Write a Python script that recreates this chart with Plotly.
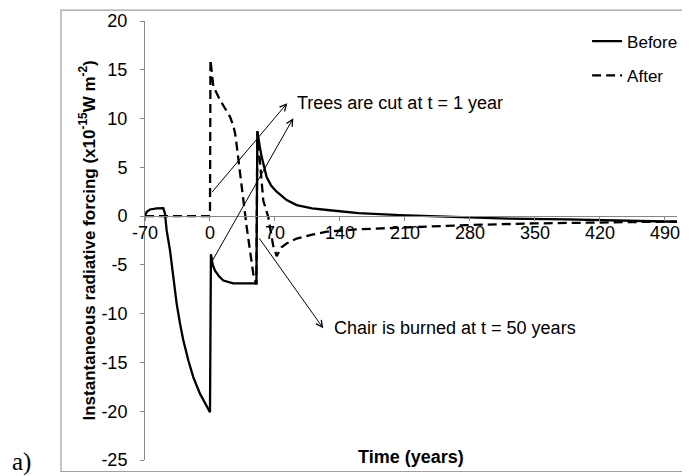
import plotly.graph_objects as go

# time axis (years) and forcing values (x10^-15 W m^-2)
before_t = [-70, -68.2, -64.6, -57.4, -50.3, -48.5, -46.7, -43.1, -39.5, -35.9, -32.3,
            -28.7, -23.3, -18.0, -10.8, -5.4, 0, 1, 3, 5.4, 10, 14.4, 20, 25, 50,
            51, 53.5, 55.6, 61, 66, 71.8, 82.6, 93.4, 110, 129, 160, 204.6, 240.5,
            312, 384, 456, 503]
before_v = [0, 0.44, 0.68, 0.79, 0.82, 0.27, -1.44, -3.49, -6.23, -8.97, -11.0,
            -12.74, -14.8, -16.5, -18.2, -19.2, -20.1, -3.9, -5.0, -5.6, -6.2, -6.6, -6.8, -6.9, -6.9,
            8.7, 7.2, 6.1, 4.0, 3.1, 2.5, 1.64, 1.13, 0.8, 0.6, 0.3, 0.1, 0.0,
            -0.24, -0.34, -0.48, -0.58]

after_t = [-70, 0, 0.5, 3.6, 10.8, 16, 21.5, 25, 27, 28.7, 30.5, 32.3, 34, 36, 39.5,
           43, 46.6, 48.5, 50, 51, 53.5, 57.4, 62.8, 68, 71.8, 77, 82.6, 93.4, 110,
           125.7, 160, 219, 276, 348, 420, 503]
after_v = [0, 0, 16, 13.3, 11.9, 11.0, 10.2, 9.3, 8.5, 7.3, 6.0, 4.8, 3.6, 1.6, -1.1,
           -3.5, -5.9, -6.6, -7.0, 8.7, 5.6, 1.6, -0.1, -3.0, -4.1, -3.2, -2.8, -2.3, -1.9,
           -1.6, -1.35, -1.1, -0.92, -0.75, -0.65, -0.55]

x_ticks = list(range(-70, 491, 70))
y_ticks = list(range(-25, 21, 5))
x_labels = [str(v) for v in x_ticks]   # plain hyphen minus, like the original
y_labels = [str(v) for v in y_ticks]

FONT = "Liberation Sans, Arial, sans-serif"
AXIS_GREY = "#868686"

fig = go.Figure()
fig.add_trace(go.Scatter(x=before_t, y=before_v, mode="lines", name="Before", showlegend=True,
                         line=dict(color="black", width=2.3), legend="legend"))
fig.add_trace(go.Scatter(x=after_t, y=after_v, mode="lines", name="After", showlegend=True,
                         line=dict(color="black", width=2.3, dash="9px,5px"), legend="legend2"))

# page body has an 8px margin, so the figure is 8px smaller than the window
fig.update_layout(
    width=682, height=468,
    margin=dict(l=137, r=13, t=13, b=16, autoexpand=False),
    showlegend=True,
    paper_bgcolor="white", plot_bgcolor="white",
    font=dict(family=FONT, size=18, color="black"),
    xaxis=dict(range=[-70, 503], tickvals=x_ticks, ticktext=x_labels, showgrid=False,
               zeroline=False, showline=True, linecolor=AXIS_GREY, linewidth=1,
               ticks="outside", ticklen=4, tickcolor=AXIS_GREY, ticklabelstandoff=-4,
               anchor="free", position=25 / 45),
    yaxis=dict(range=[-25, 20], tickvals=y_ticks, ticktext=y_labels, showgrid=False,
               zeroline=False, showline=True, linecolor=AXIS_GREY, linewidth=1,
               ticks="outside", ticklen=4, tickcolor=AXIS_GREY, ticklabelstandoff=9),
    legend=dict(x=0.831, y=0.953, xanchor="left", yanchor="middle",
                bgcolor="rgba(0,0,0,0)", itemwidth=30, font=dict(size=17)),
    legend2=dict(x=0.831, y=0.875, xanchor="left", yanchor="middle",
                 bgcolor="rgba(0,0,0,0)", itemwidth=30, font=dict(size=17)),
)

# chart area border
fig.add_shape(type="rect", xref="paper", yref="paper",
              x0=-0.158, x1=1.0226, y0=-0.0262, y1=1.025,
              line=dict(color="#a0a0a0", width=1.2))

# axis titles
fig.add_annotation(text="<b>Instantaneous radiative forcing (x10<sup>-15</sup>W m<sup>-2</sup>)</b>",
                   xref="paper", yref="paper", x=-0.109, y=0.50, textangle=-90,
                   xanchor="center", yanchor="middle", showarrow=False, font=dict(size=17))
fig.add_annotation(text="<b>Time (years)</b>", xref="paper", yref="paper",
                   x=0.5, y=0.007, xanchor="center", yanchor="middle",
                   showarrow=False, font=dict(size=18))
fig.add_annotation(text="a)", xref="paper", yref="paper", x=-0.233, y=-0.005,
                   xanchor="center", yanchor="middle", showarrow=False,
                   font=dict(family="Liberation Serif, Times New Roman, serif", size=25))

# arrows and labels
arrows = [((1.1, 2.33), (83.2, 11.58)),
          ((1.8, -4.7), (89.7, 10.04)),
          ((52, -2.13), (122, -11.5))]
for (tx, ty), (hx, hy) in arrows:
    fig.add_annotation(text="", x=hx, y=hy, ax=tx, ay=ty, xref="x", yref="y",
                       axref="x", ayref="y", showarrow=True, arrowhead=5,
                       arrowsize=1.3, arrowwidth=1, arrowcolor="black", standoff=0)
fig.add_annotation(text="Trees are cut at t = 1 year", x=91.5, y=11.6, xref="x", yref="y",
                   xanchor="left", yanchor="middle", showarrow=False)
fig.add_annotation(text="Chair is burned at t = 50 years", x=131, y=-11.5, xref="x", yref="y",
                   xanchor="left", yanchor="middle", showarrow=False)

fig.write_html("out.html")
